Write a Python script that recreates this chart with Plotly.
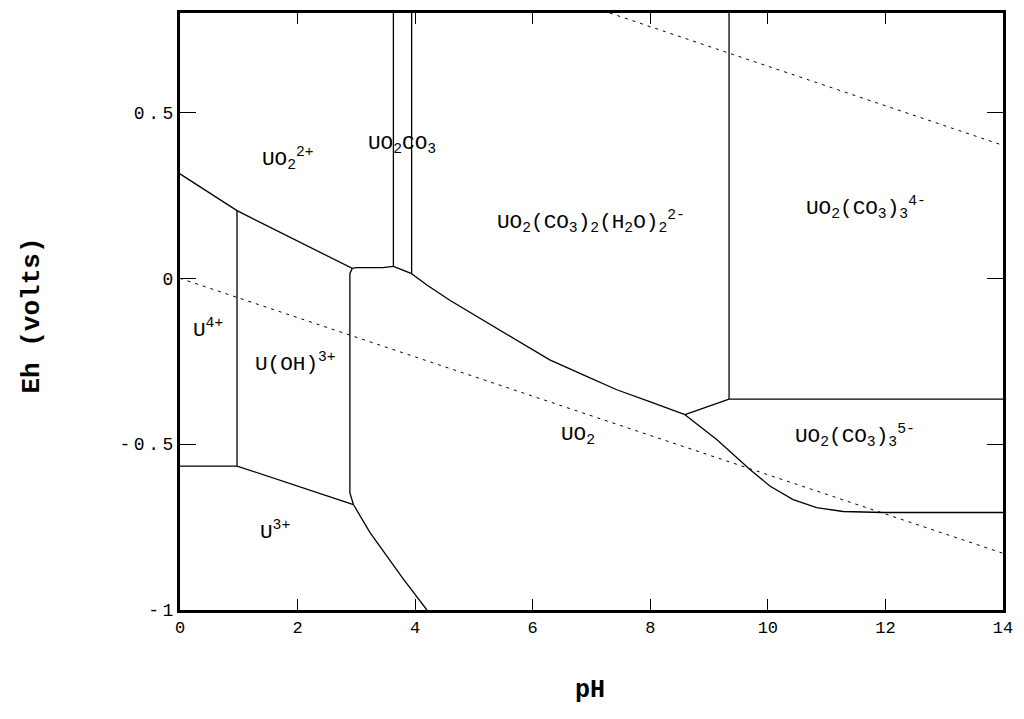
#!/usr/bin/env python3

import plotly.graph_objects as go

# Eh-pH (Pourbaix) diagram for uranium with carbonate
# each boundary is a polyline: pH values and Eh values (volts)
uo2_2p_low_ph = [0, 0.97, 2.93, 3.0, 3.45, 3.63]
uo2_2p_low_eh = [0.315, 0.204, 0.03, 0.032, 0.032, 0.036]

uo2co3_low_ph = [3.63, 3.94]
uo2co3_low_eh = [0.036, 0.014]

uo2co3_left_ph = [3.63, 3.63]
uo2co3_left_eh = [0.036, 0.8]

uo2co3_right_ph = [3.94, 3.94]
uo2co3_right_eh = [0.014, 0.8]

carb2_low_ph = [3.94, 4.2, 4.59, 5.15, 5.73, 6.29, 6.86, 7.43, 7.99, 8.59]
carb2_low_eh = [0.014, -0.02, -0.066, -0.126, -0.186, -0.246, -0.291, -0.336, -0.372, -0.411]

junction_ph = [8.59, 9.34]
junction_eh = [-0.411, -0.364]

carb3_vert_ph = [9.34, 9.34]
carb3_vert_eh = [-0.364, 0.8]

carb3_horiz_ph = [9.34, 14]
carb3_horiz_eh = [-0.364, -0.364]

carb3_5m_low_ph = [8.59, 9.13, 9.70, 10.04, 10.43, 10.83, 11.28, 11.96, 14]
carb3_5m_low_eh = [-0.411, -0.486, -0.577, -0.627, -0.667, -0.691, -0.703, -0.706, -0.706]

u4_vert_ph = [0.97, 0.97]
u4_vert_eh = [0.204, -0.566]

u4_u3_ph = [0, 0.97]
u4_u3_eh = [-0.566, -0.566]

uoh_u3_ph = [0.97, 2.10, 2.95]
uoh_u3_eh = [-0.566, -0.631, -0.682]

uoh_uo2_ph = [2.93, 2.89, 2.89, 2.95]
uoh_uo2_eh = [0.03, 0.015, -0.647, -0.682]

u3_uo2_ph = [2.95, 3.23, 3.80, 4.2]
u3_uo2_eh = [-0.682, -0.766, -0.907, -1.0]

# water stability limits (dashed)
o2_ph = [7.31, 14]
o2_eh = [0.8, 0.401]
h2_ph = [0, 14]
h2_eh = [0.0, -0.829]

# species labels
species = ['UO<sub>2</sub><sup>2+</sup>', 'UO<sub>2</sub>CO<sub>3</sub>',
           'UO<sub>2</sub>(CO<sub>3</sub>)<sub>2</sub>(H<sub>2</sub>O)<sub>2</sub><sup>2-</sup>',
           'UO<sub>2</sub>(CO<sub>3</sub>)<sub>3</sub><sup>4-</sup>',
           'U<sup>4+</sup>', 'U(OH)<sup>3+</sup>', 'UO<sub>2</sub>',
           'UO<sub>2</sub>(CO<sub>3</sub>)<sub>3</sub><sup>5-</sup>', 'U<sup>3+</sup>']
species_ph = [1.84, 3.78, 6.99, 11.67, 0.48, 1.96, 6.77, 11.48, 1.62]
species_eh = [0.36, 0.405, 0.17, 0.215, -0.15, -0.255, -0.475, -0.475, -0.76]

x_ticks = [0, 2, 4, 6, 8, 10, 12, 14]
y_ticks = [-1, -0.5, 0, 0.5]
y_tick_text = ['-\u20091', '-\u20090\u2009.\u20095', '0', '0\u2009.\u20095']

MONO = 'Liberation Mono, Courier New, monospace'

fig = go.Figure()

boundaries = [
    (uo2_2p_low_ph, uo2_2p_low_eh),
    (uo2co3_low_ph, uo2co3_low_eh),
    (uo2co3_left_ph, uo2co3_left_eh),
    (uo2co3_right_ph, uo2co3_right_eh),
    (carb2_low_ph, carb2_low_eh),
    (junction_ph, junction_eh),
    (carb3_vert_ph, carb3_vert_eh),
    (carb3_horiz_ph, carb3_horiz_eh),
    (carb3_5m_low_ph, carb3_5m_low_eh),
    (u4_vert_ph, u4_vert_eh),
    (u4_u3_ph, u4_u3_eh),
    (uoh_u3_ph, uoh_u3_eh),
    (uoh_uo2_ph, uoh_uo2_eh),
    (u3_uo2_ph, u3_uo2_eh),
]
for ph, eh in boundaries:
    fig.add_trace(go.Scatter(x=ph, y=eh, mode='lines',
                             line=dict(color='black', width=1.3),
                             showlegend=False, hoverinfo='skip'))

for ph, eh in [(o2_ph, o2_eh), (h2_ph, h2_eh)]:
    fig.add_trace(go.Scatter(x=ph, y=eh, mode='lines',
                             line=dict(color='black', width=1, dash='3px,5px'),
                             showlegend=False, hoverinfo='skip'))

for txt, ph, eh in zip(species, species_ph, species_eh):
    fig.add_annotation(x=ph, y=eh, text=txt, showarrow=False,
                       font=dict(family=MONO, size=21, color='black'))

# axis titles placed as annotations
fig.add_annotation(x=0.498, y=-0.135, xref='paper', yref='paper', text='<b>pH</b>',
                   xanchor='center', yanchor='middle', showarrow=False,
                   font=dict(family=MONO, size=25, color='black'))
fig.add_annotation(x=-0.18, y=0.493, xref='paper', yref='paper', text='<b>Eh (volts)</b>',
                   xanchor='center', yanchor='middle', textangle=-90, showarrow=False,
                   font=dict(family=MONO, size=26, color='black'))

fig.update_xaxes(range=[0, 14], tickvals=x_ticks, ticks='inside', ticklen=11,
                 tickwidth=1.3, tickcolor='black', showline=True, linewidth=3,
                 linecolor='black', mirror='ticks', showgrid=False, zeroline=False,
                 tickfont=dict(family=MONO, size=17, color='black'))
fig.update_yaxes(range=[-1, 0.8], tickvals=y_ticks, ticktext=y_tick_text,
                 ticks='inside', ticklen=16, tickwidth=1.3, tickcolor='black',
                 showline=True, linewidth=3, linecolor='black', mirror='ticks',
                 showgrid=False, zeroline=False,
                 tickfont=dict(family=MONO, size=18, color='black'))

# page body adds an 8px offset, margins compensate so the frame sits at 180..1003 x 10..610
fig.update_layout(width=1024, height=719,
                  margin=dict(l=172, r=29, t=2, b=117),
                  plot_bgcolor='white', paper_bgcolor='white')

fig.write_html("out.html")
